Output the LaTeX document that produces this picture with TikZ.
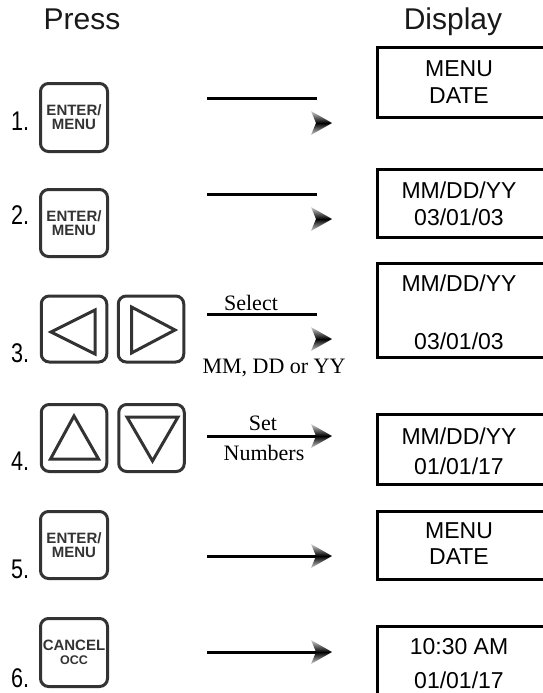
\documentclass[tikz,border=0pt]{standalone}
\usepackage{fontspec}
\setmainfont{Liberation Sans}
\newfontfamily\seriffont{Liberation Serif}
\definecolor{keygray}{HTML}{333333}
\tikzset{
  arrowhd/.pic={\shade[top color=gray!35, bottom color=gray!35, middle color=black]
     (-21,-12) -- (0,0) -- (-21,12) -- (-16,0) -- cycle;}
}
\begin{document}
\begin{tikzpicture}[x=1pt,y=-1pt,
  keybox/.style={draw=keygray, line width=3pt, rounded corners=8pt, minimum width=67pt,
     minimum height=67pt, inner sep=0pt, align=center, text=keygray,
     font=\bfseries\fontsize{15}{14}\selectfont},
  arrowkey/.style={keybox, minimum width=65.5pt, minimum height=66pt},
  keytri/.style={draw=keygray, line width=3pt, line join=miter},
  dbox/.style={draw=black, line width=3pt, inner sep=0pt, anchor=north west, minimum width=172pt},
  dtext/.style={anchor=north, inner sep=0pt, align=center, font=\fontsize{23}{27}\selectfont},
  numlbl/.style={anchor=base west, inner sep=0pt, font=\fontsize{27}{27}\selectfont},
  head/.style={anchor=base, inner sep=0pt, font=\fontsize{30}{30}\selectfont, text=black!90},
  conn/.style={line width=3pt},
  sertext/.style={inner sep=0pt, anchor=base, font=\seriffont\fontsize{22}{22}\selectfont}
]
\useasboundingbox (0,0) rectangle (543,693);
\clip (0,0) rectangle (543,693);

% headings
\node[head] (press) at (82,30) {Press};
\node[head] (display) at (453,30) {Display};

% step numbers
\node[numlbl] (n1) at (11,130) {\scalebox{0.8}[1]{1.}};
\node[numlbl] (n2) at (11,224) {\scalebox{0.8}[1]{2.}};
\node[numlbl] (n3) at (11,362) {\scalebox{0.8}[1]{3.}};
\node[numlbl] (n4) at (11,470) {\scalebox{0.8}[1]{4.}};
\node[numlbl] (n5) at (11,578) {\scalebox{0.8}[1]{5.}};
\node[numlbl] (n6) at (11,687) {\scalebox{0.8}[1]{6.}};

% keys
\node[keybox, minimum height=68pt] (k1) at (74,117.5) {ENTER/\\MENU};
\node[keybox] (k2) at (74,223) {ENTER/\\MENU};
\node[arrowkey] (k3l) at (74,329) {};
\node[arrowkey] (k3r) at (151,329) {};
\node[arrowkey, minimum height=67pt] (k4l) at (74,438) {};
\node[arrowkey, minimum height=67pt] (k4r) at (151.5,438) {};
\node[keybox] (k5) at (74,545) {ENTER/\\MENU};
\node[keybox, minimum height=68pt] (k6) at (74,652.5) {CANCEL\\{\fontsize{12.5}{14}\selectfont OCC}};

% key symbols
\draw[keytri] (51,332) -- (95,310) -- (95,354) -- cycle;
\draw[keytri] (131.5,307) -- (131.5,353) -- (175,330) -- cycle;
\draw[keytri] (74,416) -- (50.5,459) -- (98.5,459) -- cycle;
\draw[keytri] (127,417) -- (178,417) -- (152.5,461) -- cycle;

% connectors
\coordinate (l1a) at (207,98);  \coordinate (l1b) at (317,98);
\coordinate (l2a) at (207,194); \coordinate (l2b) at (317,194);
\coordinate (l3a) at (207,314); \coordinate (l3b) at (317,314);
\coordinate (l4a) at (207,436); \coordinate (l4b) at (318,436);
\coordinate (l5a) at (207,556); \coordinate (l5b) at (318,556);
\coordinate (l6a) at (207,652); \coordinate (l6b) at (318,652);
\draw[conn] (l1a) -- (l1b);
\draw[conn] (l2a) -- (l2b);
\draw[conn] (l3a) -- (l3b);
\draw[conn] (l4a) -- (l4b);
\draw[conn] (l5a) -- (l5b);
\draw[conn] (l6a) -- (l6b);
\pic at (332,123) {arrowhd};
\pic at (332,219) {arrowhd};
\pic at (332,339) {arrowhd};
\pic at (332,436) {arrowhd};
\pic at (332,556) {arrowhd};
\pic at (332,652) {arrowhd};

% connector labels
\node[sertext] (sel) at (251,310) {Select};
\node[sertext] (mdy) at (274,373) {MM, DD or YY};
\node[sertext] (set) at (263,430) {Set};
\node[sertext] (num) at (264,460) {Numbers};

% display boxes
\node[dbox, minimum height=69pt] (d1) at (375.5,46.5) {};
\node[dbox, minimum height=68pt] (d2) at (375.5,167.5) {};
\node[dbox, minimum height=94pt] (d3) at (375.5,261.5) {};
\node[dbox, minimum height=70pt] (d4) at (375.5,412.5) {};
\node[dbox, minimum height=68pt] (d5) at (375.5,509.5) {};
\node[dbox, minimum height=100pt] (d6) at (375.5,624.5) {};

\node[dtext] (t1) at (459,60) {MENU\\DATE};
\node[dtext] (t2) at (459,182) {MM/DD/YY\\03/01/03};
\node[dtext] (t3) at (459,275) {MM/DD/YY\\[31pt]03/01/03};
\node[dtext] (t4) at (459,428) {MM/DD/YY\\[3pt]01/01/17};
\node[dtext] (t5) at (459,522) {MENU\\[-1pt]DATE};
\node[dtext] (t6) at (459,638) {10:30 AM\\[7pt]01/01/17};
\end{tikzpicture}
\end{document}
